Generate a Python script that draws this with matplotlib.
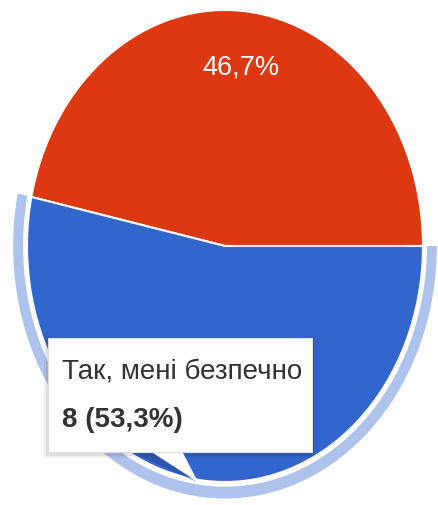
import matplotlib
matplotlib.use("Agg")
import matplotlib.pyplot as plt
from matplotlib import font_manager
from matplotlib.patches import Polygon, Rectangle

# дані
labels = ["Ні", "Так, мені безпечно"]
counts = [7, 8]
colors = ["#DC3912", "#3366CC"]
hover_idx = 1

names = {f.name for f in font_manager.fontManager.ttflist}
fam = "Liberation Sans Narrow" if "Liberation Sans Narrow" in names else "Liberation Sans"
plt.rcParams["font.family"] = [fam, "DejaVu Sans"]

W, H = 438, 505
fig = plt.figure(figsize=(W / 100, H / 100), dpi=100)
fig.patch.set_facecolor("white")

# centre of the pie ~ (225, 246) px, rx 198, ry 236
cx, cy, rx, ry = 225, 246, 198, 236
ax = fig.add_axes([(cx - rx) / W, (H - cy - ry) / H, 2 * rx / W, 2 * ry / H])

total = sum(counts)


def pct_fmt(p):
    if round(p * total / 100) == counts[hover_idx]:
        return ""
    return f"{p:.1f}%".replace(".", ",")


wedges, texts, autotexts = ax.pie(
    counts, colors=colors, startangle=0, counterclock=True,
    autopct=pct_fmt, pctdistance=0.76,
    wedgeprops=dict(edgecolor="white", linewidth=1.5),
    textprops=dict(color="white", fontsize=19.5),
)

# світле кільце навколо виділеного сектора
ring_cols = ["none"] * len(counts)
ring_cols[hover_idx] = "#AEC3EB"
ax.pie(counts, colors=ring_cols, startangle=0, counterclock=True,
       radius=1.07, wedgeprops=dict(width=0.05, edgecolor="none"))

ax.set_aspect("auto")
ax.set_xlim(-1, 1)
ax.set_ylim(-1, 1)
ax.axis("off")

# підказка (tooltip)
ov = fig.add_axes([0, 0, 1, 1])
ov.set_xlim(0, W)
ov.set_ylim(H, 0)
ov.axis("off")

for d, a in [(4, 0.05), (2, 0.07)]:
    ov.add_patch(Rectangle((48 - d, 338 - d + 2), 264 + 2 * d, 114 + 2 * d,
                           facecolor="#000000", alpha=a, edgecolor="none"))
ov.add_patch(Polygon([(132, 452), (150, 452), (197, 482)], closed=True,
                     facecolor="#2a4f9e", edgecolor="none", alpha=0.7))
ov.add_patch(Polygon([(150, 451), (182, 451), (198, 482)], closed=True,
                     facecolor="white", edgecolor="none"))
ov.add_patch(Rectangle((48, 338), 264, 114, facecolor="white",
                       edgecolor="#dddddd", linewidth=0.8))

ov.text(62, 372, labels[hover_idx], fontsize=20, color="#333333",
        ha="left", va="center")
ov.text(62, 420, f"{counts[hover_idx]} ({counts[hover_idx] / total * 100:.1f}%)".replace(".", ","),
        fontsize=20, color="#333333", fontweight="bold", ha="left", va="center")

fig.savefig("out.png", dpi=100, facecolor="white")
